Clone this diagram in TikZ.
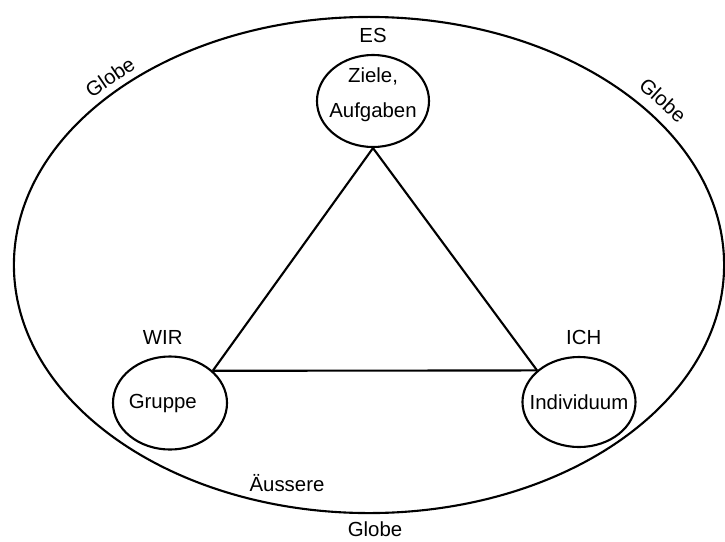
\documentclass[tikz,border=0pt]{standalone}
\usepackage{fontspec}
\setmainfont{Liberation Sans}
\usetikzlibrary{shapes.geometric, positioning}
\tikzstyle{globe} = [ellipse, draw=black, line width=1.5pt, inner sep=0pt, minimum width=17.75cm, minimum height=12.4cm]
\tikzstyle{pole} = [ellipse, draw=black, line width=1.5pt, inner sep=0pt]
\tikzstyle{edge} = [line width=1.5pt]

\begin{document}
\begin{tikzpicture}[x=0.025cm, y=-0.025cm, font=\fontsize{14.5}{25}\selectfont, label distance=4.5pt]
				\useasboundingbox (0,0) rectangle (725,541);
				
				% Outer globe
				\node (globe) [globe] at (369,265) {};
				
				% Nodes for the three poles
				\node (es) [pole, minimum width=2.8cm, minimum height=2.3cm, label=above:ES, label={[align=center, yshift=0.15cm]center:{Ziele,\\Aufgaben}}] at (373,101) {};
				\node (wir) [pole, minimum width=2.85cm, minimum height=2.325cm, label={[xshift=-0.18cm]above:WIR}, label={[xshift=-0.18cm]center:Gruppe}] at (170,403) {};
				\node (ich) [pole, minimum width=2.825cm, minimum height=2.25cm, label={[xshift=0.12cm]above:ICH}, label=center:Individuum] at (579,402) {};
				
				% Triangle between the poles
				\draw [edge] (es.south) -- (wir.37);
				\draw [edge] (wir.37) -- (ich.143);
				\draw [edge] (ich.143) -- (es.south);
				
				% Labels on the globe
				\node (globenw) [rotate=34] at (110,77) {Globe};
				\node (globene) [rotate=-42] at (663,100) {Globe};
				\node (aussen) at (287,483) {Äussere};
				\node (globes) [below=2pt of globe.south, xshift=0.15cm] {Globe};
				
			\end{tikzpicture}
\end{document}
